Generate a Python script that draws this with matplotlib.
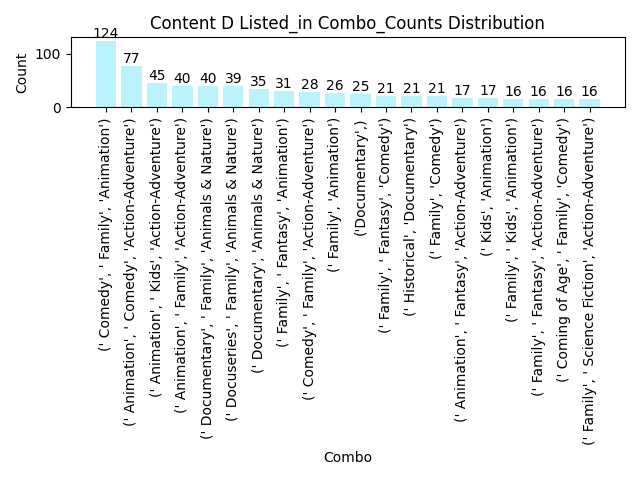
import matplotlib
matplotlib.use("Agg")
from matplotlib import pyplot as plt

combos = [
    "(' Comedy', ' Family', 'Animation')",
    "(' Animation', ' Comedy', 'Action-Adventure')",
    "(' Animation', ' Kids', 'Action-Adventure')",
    "(' Animation', ' Family', 'Action-Adventure')",
    "(' Documentary', ' Family', 'Animals & Nature')",
    "(' Docuseries', ' Family', 'Animals & Nature')",
    "(' Documentary', 'Animals & Nature')",
    "(' Family', ' Fantasy', 'Animation')",
    "(' Comedy', ' Family', 'Action-Adventure')",
    "(' Family', 'Animation')",
    "('Documentary',)",
    "(' Family', ' Fantasy', 'Comedy')",
    "(' Historical', 'Documentary')",
    "(' Family', 'Comedy')",
    "(' Animation', ' Fantasy', 'Action-Adventure')",
    "(' Kids', 'Animation')",
    "(' Family', ' Kids', 'Animation')",
    "(' Family', ' Fantasy', 'Action-Adventure')",
    "(' Coming of Age', ' Family', 'Comedy')",
    "(' Family', ' Science Fiction', 'Action-Adventure')",
]
counts = [124, 77, 45, 40, 40, 39, 35, 31, 28, 26, 25, 21, 21, 21, 17, 17, 16, 16, 16, 16]


def main():
    fig, ax = plt.subplots(figsize=(6.4, 4.8), dpi=100)
    bars = ax.bar(combos, counts, color="#baf3fc")
    for bar, value in zip(bars, counts):
        ax.text(bar.get_x() + bar.get_width() / 2, bar.get_height(), str(value),
                ha="center", va="bottom")
    ax.set_title("Content D Listed_in Combo_Counts Distribution")
    ax.set_xlabel("Combo")
    ax.set_ylabel("Count")
    plt.xticks(rotation=90)
    plt.tight_layout()
    fig.savefig("out.png")


if __name__ == "__main__":
    main()
